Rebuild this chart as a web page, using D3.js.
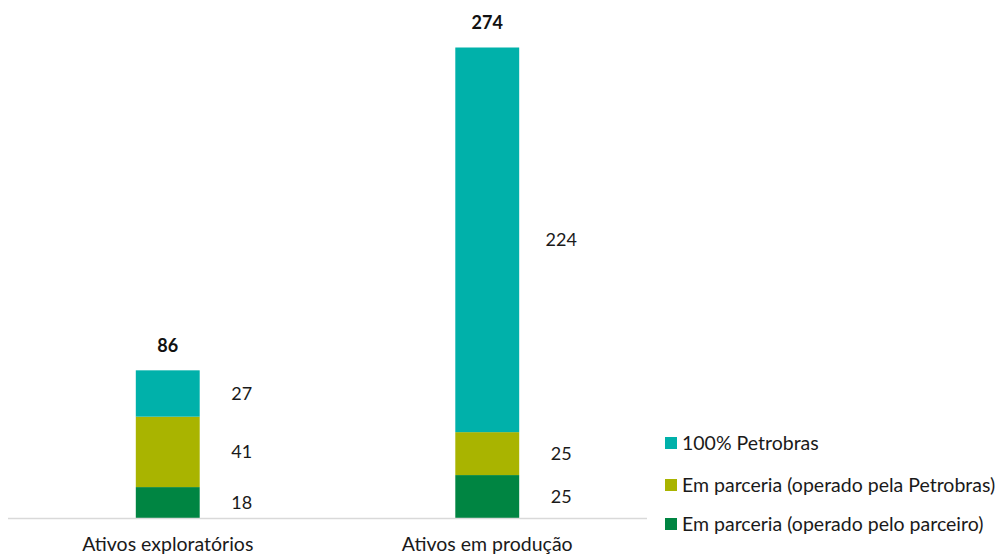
<!DOCTYPE html>
<html><head><meta charset="utf-8">
<script src="https://cdn.jsdelivr.net/npm/d3@7"></script>
<style>
html,body{margin:0;padding:0;background:#fff;}
svg{display:block;font-family:Lato,"Open Sans",sans-serif;}
</style></head>
<body>
<svg id="chart" width="999" height="554"></svg>
<script>
const categories = ["Ativos exploratórios", "Ativos em produção"];
const seriesNames = ["Em parceria (operado pelo parceiro)", "Em parceria (operado pela Petrobras)", "100% Petrobras"];
const parceiro = [18, 25];
const operadoPetrobras = [41, 25];
const petrobras100 = [27, 224];
const totals = [86, 274];
const colors = ["#008542", "#a9b400", "#00b1aa"];

const seriesValues = [parceiro, operadoPetrobras, petrobras100];
const rows = categories.map((c, i) => {
  const r = {cat: c};
  seriesNames.forEach((s, j) => r[s] = seriesValues[j][i]);
  return r;
});
const stacked = d3.stack().keys(seriesNames)(rows);

const svg = d3.select("#chart");
const x = d3.scaleBand().domain(categories).range([8, 647]).paddingInner(0.8).paddingOuter(0.4);
const y = d3.scaleLinear().domain([0, d3.max(totals)]).range([518, 47.5]);

// bars
const g = svg.append("g");
stacked.forEach((layer, j) => {
  g.selectAll(null).data(layer).enter().append("rect")
    .attr("x", d => x(d.data.cat))
    .attr("width", x.bandwidth())
    .attr("y", d => y(d[1]))
    .attr("height", d => y(d[0]) - y(d[1]))
    .attr("fill", colors[j]);
  // value labels
  g.selectAll(null).data(layer).enter().append("text")
    .attr("x", d => x(d.data.cat) + x.bandwidth() / 2 + 74)
    .attr("y", d => (y(d[0]) + y(d[1])) / 2)
    .attr("dy", "0.35em")
    .attr("text-anchor", "middle")
    .attr("font-size", 18)
    .attr("fill", "#1a1a1a")
    .text((d, i) => seriesValues[j][i]);
});

// totals
g.selectAll(null).data(categories).enter().append("text")
  .attr("x", d => x(d) + x.bandwidth() / 2)
  .attr("y", (d, i) => y(totals[i]) - 25)
  .attr("dy", "0.35em")
  .attr("text-anchor", "middle")
  .attr("font-size", 18)
  .attr("font-weight", "bold")
  .attr("fill", "#111")
  .text((d, i) => totals[i]);

// x axis
const xAxis = svg.append("g").attr("transform", "translate(0,518)")
  .call(d3.axisBottom(x).tickSize(0).tickPadding(0));
xAxis.select(".domain").attr("stroke", "#d9d9d9").attr("stroke-width", 1.3).attr("d", "M8,0.5H647");
xAxis.selectAll("text").attr("font-size", 19.5).attr("fill", "#1a1a1a")
  .attr("font-family", "Lato,'Open Sans',sans-serif")
  .attr("y", 33).attr("dy", null);

// legend
const legendItems = [2, 1, 0];
const leg = svg.append("g").attr("transform", "translate(665,0)");
const legendY = [443, 485, 524];
legendItems.forEach((j, k) => {
  leg.append("rect").attr("x", 0).attr("y", legendY[k] - 6).attr("width", 12).attr("height", 12).attr("fill", colors[j]);
  leg.append("text").attr("x", 17).attr("y", legendY[k]).attr("dy", "0.35em")
    .attr("font-size", 19.5).attr("fill", "#1a1a1a").text(seriesNames[j]);
});
</script>
</body></html>
